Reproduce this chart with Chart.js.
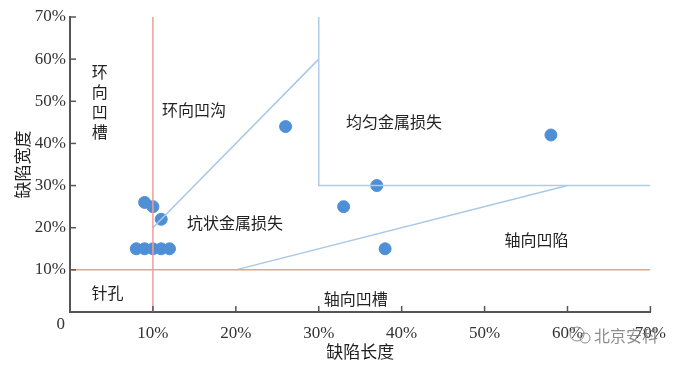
<!DOCTYPE html>
<html>
<head>
<meta charset="utf-8">
<script src="https://cdn.jsdelivr.net/npm/chart.js@4"></script>
<style>
  html, body { margin: 0; padding: 0; background: #fff; }
  .chart_container { width: 677px; height: 367px; }
</style>
</head>
<body>
<div class="chart_container">
  <canvas id="myChart" width="677" height="367"></canvas>
</div>
<script>
// defect measurements (%)
var defectLength = [9, 10, 11, 8, 9, 10, 11, 12, 26, 33, 37, 38, 58];
var defectWidth = [26, 25, 22, 15, 15, 15, 15, 15, 44, 25, 30, 15, 42];

// boundary lines between defect classes (%)
var pinholeLineX = [10, 10];
var pinholeLineY = [0, 70];
var grooveLineX = [0, 70];
var grooveLineY = [10, 10];
var uniformLineX = [30, 30, 70];
var uniformLineY = [70, 30, 30];
var circSlotLineX = [10, 30];
var circSlotLineY = [20, 60];
var axialDentLineX = [20, 60];
var axialDentLineY = [10, 30];

var tickValues = [0, 10, 20, 30, 40, 50, 60, 70];

function pts(xs, ys) {
  return xs.map(function (x, i) { return { x: x, y: ys[i] }; });
}

var CJK = '"Noto Sans CJK SC", sans-serif';
var SERIF = '"Liberation Serif", "DejaVu Serif", serif';

// region names, placed in data units
var regionLabels = [
  { text: '环向凹沟', x: 11.1, y: 48 },
  { text: '均匀金属损失', x: 33.3, y: 45.2 },
  { text: '坑状金属损失', x: 14.1, y: 21.2 },
  { text: '轴向凹陷', x: 52.4, y: 17.1 },
  { text: '针孔', x: 2.6, y: 4.5 },
  { text: '轴向凹槽', x: 30.6, y: 3.1 }
];

var extras = {
  id: 'extras',
  afterDraw: function (chart) {
    var ctx = chart.ctx;
    var xs = chart.scales.x, ys = chart.scales.y;
    var ca = chart.chartArea;
    ctx.save();
    // inward ticks
    ctx.strokeStyle = '#555';
    ctx.lineWidth = 1.5;
    tickValues.forEach(function (v) {
      if (v === 0) return;
      var px = xs.getPixelForValue(v);
      ctx.beginPath(); ctx.moveTo(px, ca.bottom); ctx.lineTo(px, ca.bottom - 6); ctx.stroke();
      var py = ys.getPixelForValue(v);
      ctx.beginPath(); ctx.moveTo(ca.left, py); ctx.lineTo(ca.left + 6, py); ctx.stroke();
    });
    // origin label
    ctx.fillStyle = '#333';
    ctx.font = '17px ' + SERIF;
    ctx.textAlign = 'right';
    ctx.textBaseline = 'middle';
    ctx.fillText('0', ca.left - 5, ca.bottom + 13);
    // region names
    ctx.fillStyle = '#222';
    ctx.font = '16px ' + CJK;
    ctx.textAlign = 'left';
    regionLabels.forEach(function (l) {
      ctx.fillText(l.text, xs.getPixelForValue(l.x), ys.getPixelForValue(l.y));
    });
    // vertical label
    ctx.textAlign = 'center';
    '环向凹槽'.split('').forEach(function (ch, i) {
      ctx.fillText(ch, xs.getPixelForValue(3.6), ys.getPixelForValue(57 - i * 4.76));
    });
    // watermark
    ctx.fillStyle = 'rgba(120,120,120,0.85)';
    ctx.font = '16px ' + CJK;
    ctx.textAlign = 'left';
    ctx.fillText('北京安科', 594, 336);
    ctx.strokeStyle = 'rgba(120,120,120,0.85)';
    ctx.lineWidth = 1;
    ctx.beginPath(); ctx.arc(577, 334, 7, 0, Math.PI * 2); ctx.stroke();
    ctx.beginPath(); ctx.arc(585, 338, 5, 0, Math.PI * 2); ctx.stroke();
    ctx.restore();
  }
};

function lineSet(xs, ys, color) {
  return {
    type: 'line',
    data: pts(xs, ys),
    borderColor: color,
    borderWidth: 1.5,
    pointRadius: 0,
    fill: false,
    tension: 0
  };
}

var ctx = document.getElementById('myChart').getContext('2d');
var myChart = new Chart(ctx, {
  type: 'scatter',
  data: {
    datasets: [
      lineSet(pinholeLineX, pinholeLineY, '#f39a9a'),
      lineSet(grooveLineX, grooveLineY, '#e8a67c'),
      lineSet(uniformLineX, uniformLineY, '#b0cde6'),
      lineSet(circSlotLineX, circSlotLineY, '#a9c8e6'),
      lineSet(axialDentLineX, axialDentLineY, '#a9c8e6'),
      {
        data: pts(defectLength, defectWidth),
        backgroundColor: '#4f8fd6',
        borderColor: '#4f8fd6',
        pointRadius: 6,
        pointHoverRadius: 6
      }
    ]
  },
  options: {
    responsive: false,
    animation: false,
    layout: { padding: { top: 17, right: 25, left: 0, bottom: 0 } },
    plugins: { legend: { display: false }, tooltip: { enabled: false } },
    scales: {
      x: {
        type: 'linear', min: 0, max: 70,
        afterFit: function (s) { s.height = 55; },
        afterBuildTicks: function (s) { s.ticks = tickValues.map(function (v) { return { value: v }; }); },
        grid: { display: false, drawTicks: false },
        border: { display: true, color: '#555', width: 2 },
        ticks: {
          padding: 11,
          color: '#333',
          font: { family: SERIF, size: 17 },
          maxRotation: 0,
          callback: function (v) { return v === 0 ? '' : v + '%'; }
        },
        title: {
          display: true, text: '缺陷长度', color: '#222',
          font: { family: CJK, size: 17 },
          padding: { top: 5, bottom: 5 }
        }
      },
      y: {
        type: 'linear', min: 0, max: 70,
        afterFit: function (s) { s.width = 70; },
        afterBuildTicks: function (s) { s.ticks = tickValues.map(function (v) { return { value: v }; }); },
        grid: { display: false, drawTicks: false },
        border: { display: true, color: '#555', width: 2 },
        ticks: {
          padding: 4,
          color: '#333',
          font: { family: SERIF, size: 17 },
          callback: function (v) { return v === 0 ? '' : v + '%'; }
        },
        title: {
          display: true, text: '缺陷宽度', color: '#222',
          font: { family: CJK, size: 17 },
          padding: { top: 12, bottom: 12 }
        }
      }
    }
  },
  plugins: [extras]
});
</script>
</body>
</html>
